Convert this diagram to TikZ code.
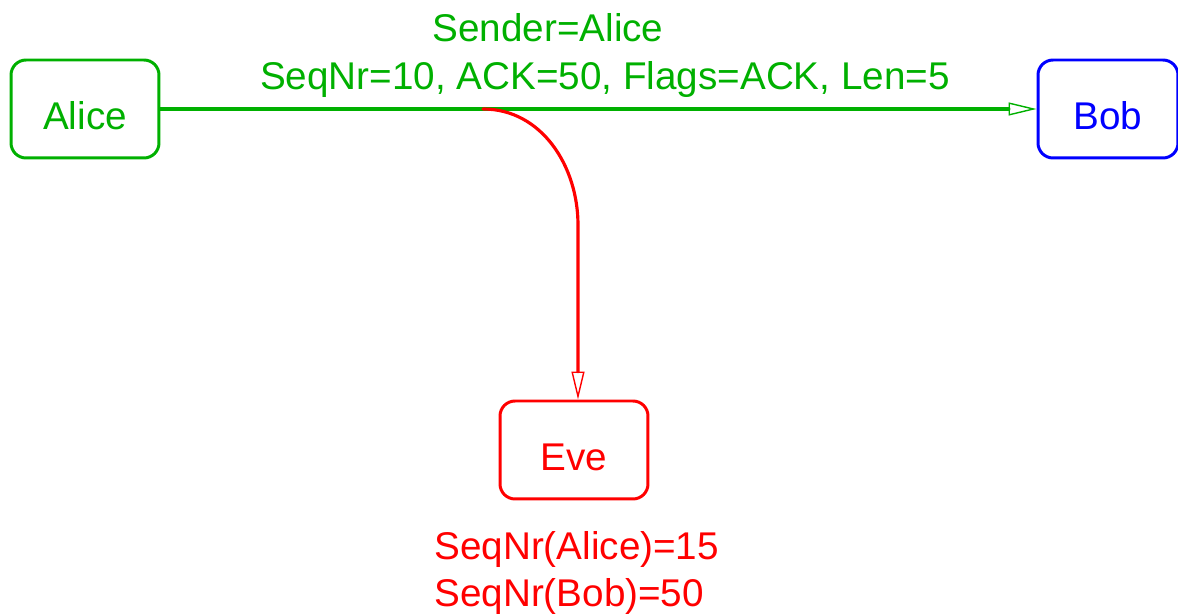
\documentclass[tikz,border=0pt]{standalone}
\usepackage{fontspec}
\setmainfont{Liberation Sans}
\usepackage{tikz}
\usetikzlibrary{arrows.meta}
\definecolor{msggreen}{RGB}{0,176,0}
\definecolor{evered}{RGB}{255,0,0}
\definecolor{bobblue}{RGB}{0,0,255}

\begin{document}
\begin{tikzpicture}[x=0.02cm,y=-0.02cm,line cap=round,line join=round,
  every node/.style={font=\fontsize{22}{26}\selectfont},
  host/.style={draw,line width=1.7pt,rounded corners=0.3cm,inner sep=0pt,
    minimum width=2.96cm,minimum height=1.96cm,text height=0.84cm,text depth=0pt},
  wire/.style={line width=1.8pt,-{Triangle[open,length=0.56cm,width=0.26cm,line width=0.8pt]}}]
\useasboundingbox (0,0) rectangle (1178,614);
% the three hosts
\node[host,msggreen] (alice) at (85,109) {Alice};
\node[host,bobblue,minimum width=2.8cm] (bob) at (1108,109) {Bob};
\node[host,evered] (eve) at (574,450) {Eve};
% packet Alice -> Bob
\draw[wire,msggreen] (alice) -- (bob);
\node[msggreen,anchor=base] (sender) at (548,42) {Sender=Alice};
\node[msggreen,anchor=base] (packet) at (605,90) {SeqNr=10, ACK=50, Flags=ACK, Len=5};
% Eve sniffs the packet
\coordinate (tap) at (483,109);
\coordinate (bend) at (578,225);
\draw[wire,evered] (tap) to[out=0,in=90] (bend) -- (bend |- eve.north);
\node[evered,anchor=base west,inner sep=0pt] (seqa) at (434,560) {SeqNr(Alice)=15};
\node[evered,anchor=base west,inner sep=0pt] (seqb) at (434,607) {SeqNr(Bob)=50};
\end{tikzpicture}
\end{document}
